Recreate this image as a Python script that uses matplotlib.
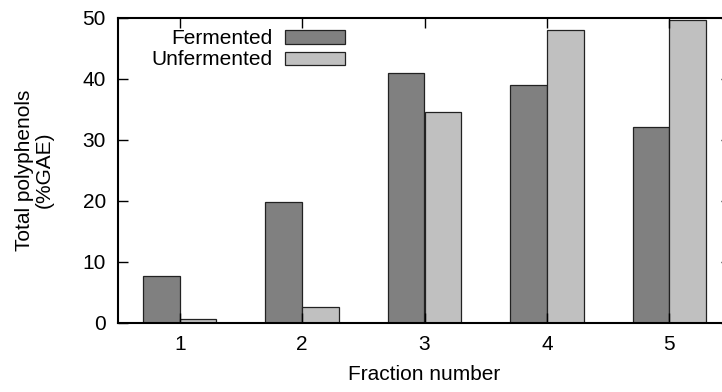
import matplotlib
matplotlib.use("Agg")
import matplotlib.pyplot as plt
import numpy as np

plt.rcParams['font.family'] = ['Liberation Sans', 'DejaVu Sans']
plt.rcParams['font.size'] = 15

fractions = [1, 2, 3, 4, 5]
fermented = [7.6, 19.8, 40.9, 39.0, 32.1]
unfermented = [0.65, 2.6, 34.5, 47.9, 49.6]
y_ticks = [0, 10, 20, 30, 40, 50]

fig = plt.figure(figsize=(7.22, 3.92), dpi=100)
# right edge sits just past the canvas
ax = fig.add_axes([118.5 / 722, 1 - 322.7 / 392, (730.5 - 118.5) / 722, (322.7 - 17.5) / 392])

x = np.array(fractions, dtype=float)
w = 0.3
ax.bar(x - w / 2, fermented, width=w, color='#808080', edgecolor='#222222', linewidth=0.9,
       label='Fermented')
ax.bar(x + w / 2, unfermented, width=w, color='#c0c0c0', edgecolor='#222222', linewidth=0.9,
       label='Unfermented')

ax.set_xlim(0.5, 5.5)
ax.set_ylim(0, 50)
ax.set_xticks(fractions)
ax.set_yticks(y_ticks)
ax.tick_params(direction='in', length=7, width=1.0, top=True, right=True, labelsize=15,
               colors='black')
ax.tick_params(axis='y', pad=9)
ax.tick_params(axis='x', pad=9)
for s in ax.spines.values():
    s.set_linewidth(1.5)

ax.set_xlabel('Fraction number', fontsize=15, labelpad=8)
ax.set_ylabel('Total polyphenols\n(%GAE)', fontsize=15, labelpad=21, linespacing=1.0)

leg = ax.legend(loc='upper left', bbox_to_anchor=(0.033, 1.002), frameon=False, markerfirst=False,
                handlelength=2.9, handleheight=0.6, handletextpad=0.6, labelspacing=0.1,
                borderaxespad=0.2, fontsize=15)
for t in leg.get_texts():
    t.set_ha('right')

fig.savefig('out.png', dpi=100)
